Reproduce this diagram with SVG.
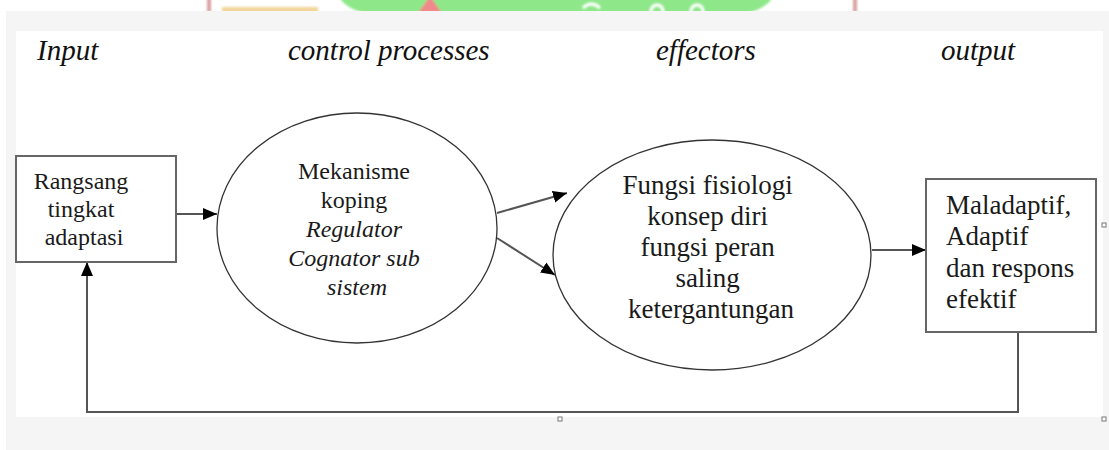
<svg xmlns="http://www.w3.org/2000/svg" width="1109" height="450" viewBox="0 0 1109 450">
  <defs>
    <marker id="arrow" viewBox="0 0 14 12" refX="14" refY="6" markerWidth="14" markerHeight="12" markerUnits="userSpaceOnUse" orient="auto">
      <path d="M0,0 L14,6 L0,12 Z" fill="#000"/>
    </marker>
    <filter id="soft" x="-5%" y="-50%" width="110%" height="200%">
      <feGaussianBlur stdDeviation="1"/>
    </filter>
  </defs>
  <style>
    .hdr { font-family: "Liberation Serif", "Times New Roman", serif; font-style: italic; font-size: 29px; fill: #111; }
    .lbl { font-family: "Liberation Serif", "Times New Roman", serif; fill: #1a1a1a; }
    .sm { font-size: 24px; }
    .lg { font-size: 27px; }
    .it { font-style: italic; }
    .box { fill: #fff; stroke: #666; stroke-width: 2; }
    .ell { fill: #fff; stroke: #333; stroke-width: 1.3; }
    .con { fill: none; stroke: #555; stroke-width: 2; }
    .handle { fill: #fff; stroke: #777; stroke-width: 1; }
  </style>

  <!-- page backdrop -->
  <rect x="0" y="0" width="1109" height="450" fill="#fff"/>
  <!-- faint logo strip along the top edge -->
  <g filter="url(#soft)">
    <rect x="207" y="-2" width="4" height="14" fill="#d9a3a3"/>
    <rect x="853" y="-2" width="4" height="14" fill="#d9a3a3"/>
    <rect x="222" y="7" width="96" height="6" fill="#f2d59a"/>
    <rect x="336" y="-40" width="440" height="55" rx="45" fill="#8ee88a"/>
    <path d="M418,13 L430,-4 L442,13 Z" fill="#f08a8a"/>
    <path d="M583,8 Q591,0 600,8" stroke="#fff" stroke-width="3" fill="none"/>
    <circle cx="657" cy="11" r="6" fill="none" stroke="#fff" stroke-width="3"/>
    <circle cx="697" cy="11" r="6" fill="none" stroke="#fff" stroke-width="3"/>
  </g>
  <rect x="6" y="11" width="1103" height="439" fill="#f5f5f5"/>
  <rect x="16" y="31" width="1087" height="386" fill="#fff"/>

  <!-- column headings -->
  <text class="hdr" x="37" y="60">Input</text>
  <text class="hdr" x="288" y="60">control processes</text>
  <text class="hdr" x="656" y="60">effectors</text>
  <text class="hdr" x="941" y="60">output</text>

  <!-- connectors -->
  <g id="connectors">
    <line class="con" x1="176" y1="214" x2="217" y2="214" marker-end="url(#arrow)"/>
    <line class="con" x1="497" y1="213" x2="567" y2="193" marker-end="url(#arrow)"/>
    <line class="con" x1="497" y1="238" x2="555" y2="275" marker-end="url(#arrow)"/>
    <line class="con" x1="872" y1="250" x2="926" y2="250" marker-end="url(#arrow)"/>
    <polyline class="con" points="1018,332 1018,412 87,412 87,262" marker-end="url(#arrow)"/>
  </g>

  <g id="stimulus">
    <rect class="box" x="16" y="156" width="160" height="106"/>
    <text class="lbl sm" text-anchor="middle" x="84">
      <tspan x="84" y="189">Rangsang</tspan>
      <tspan x="84" y="217">tingkat</tspan>
      <tspan x="84" y="245">adaptasi</tspan>
    </text>
  </g>

  <g id="control">
    <ellipse class="ell" cx="357" cy="228" rx="140" ry="115"/>
    <text class="lbl sm" text-anchor="middle">
      <tspan x="357" y="179">Mekanisme</tspan>
      <tspan x="357" y="208">koping</tspan>
      <tspan class="it" x="357" y="237">Regulator</tspan>
      <tspan class="it" x="357" y="266">Cognator sub</tspan>
      <tspan class="it" x="357" y="295">sistem</tspan>
    </text>
  </g>

  <g id="effectors">
    <ellipse class="ell" cx="712" cy="255" rx="159" ry="115"/>
    <text class="lbl lg" text-anchor="middle">
      <tspan x="711" y="194">Fungsi fisiologi</tspan>
      <tspan x="711" y="225">konsep diri</tspan>
      <tspan x="711" y="256">fungsi peran</tspan>
      <tspan x="711" y="287">saling</tspan>
      <tspan x="711" y="318">ketergantungan</tspan>
    </text>
  </g>

  <g id="output">
    <rect class="box" x="926" y="179" width="170" height="153"/>
    <text class="lbl lg">
      <tspan x="946" y="214">Maladaptif,</tspan>
      <tspan x="946" y="245">Adaptif</tspan>
      <tspan x="946" y="277">dan respons</tspan>
      <tspan x="946" y="308">efektif</tspan>
    </text>
  </g>

  <!-- resize handles -->
  <rect class="handle" x="558" y="417" width="4" height="4"/>
  <rect class="handle" x="1102" y="417" width="4" height="4"/>
  <rect class="handle" x="1102" y="223" width="4" height="4"/>
</svg>
